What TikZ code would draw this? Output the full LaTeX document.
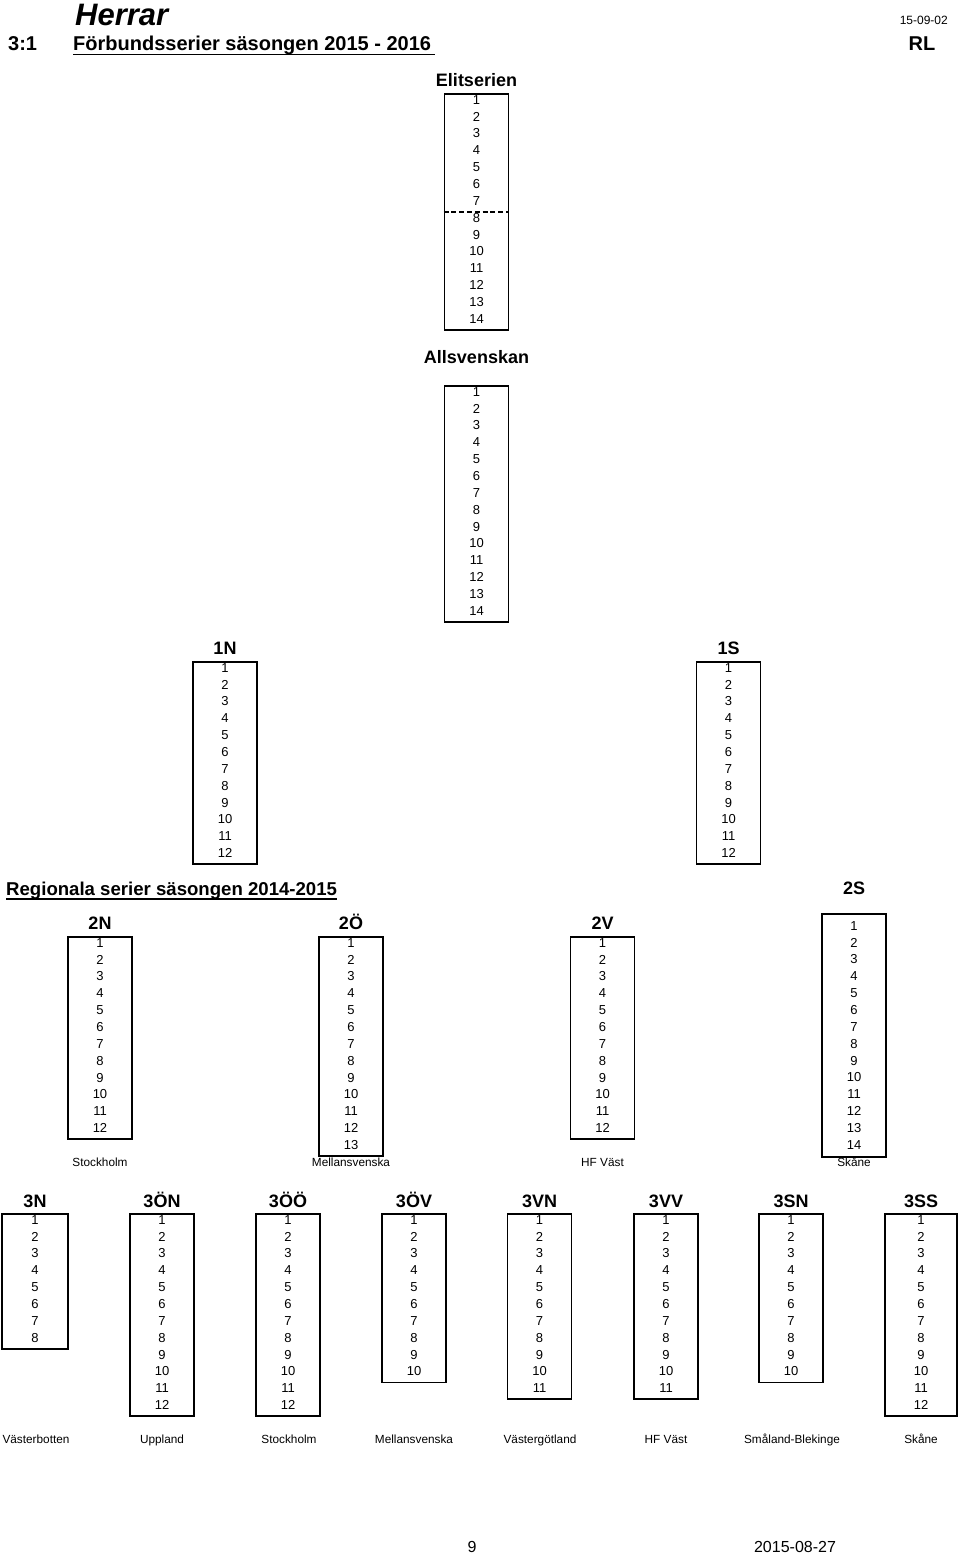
\documentclass[tikz,border=0pt]{standalone}
\usepackage{fontspec}
\setmainfont{Liberation Sans}
\usepackage{tikz}
\usetikzlibrary{positioning,calc}
\tikzset{
    listbox/.style={draw, line width=1.7pt, minimum width=64pt, inner sep=0pt},
    num/.style={font=\fontsize{13}{15}\selectfont, inner sep=0pt, text height=9.3pt, text depth=0pt},
    serietitle/.style={font=\fontsize{18}{20}\selectfont\bfseries, inner sep=0pt, text height=13pt, text depth=0pt},
    region/.style={font=\fontsize{11.8}{13}\selectfont, inner sep=0pt, text height=8.5pt, text depth=0pt},
    heading/.style={font=\fontsize{20}{22}\selectfont\bfseries, inner sep=0pt},
    uline/.style={line width=1.4pt}
}
% ruta med numrerade platser: [extra], namn, x, överkant, antal lag
\newcommand{\seriebox}[5][]{%
    \node[listbox, minimum height=#5*16.86pt, anchor=north, #1] (#2) at (#3,#4) {};
    \foreach \i in {1,...,#5}
        \node[num] (#2-\i) at (#3,#4+6.5+16.86*\i-16.86) {\i};
}

\begin{document}
\begin{tikzpicture}[x=1pt, y=-1pt]
    \useasboundingbox (0,0) rectangle (960,1554);

    % Sidhuvud
    \node[font=\fontsize{31}{34}\selectfont\bfseries\itshape, inner sep=0pt, anchor=base west] (herrar) at (75,26) {Herrar};
    \node[font=\fontsize{12}{14}\selectfont, inner sep=0pt, anchor=base east] (datum) at (948,25) {15-09-02};
    \node[heading, anchor=base west] (avd) at (8,51) {3:1};
    \node[heading, anchor=base west] (forb) at (73,51) {Förbundsserier säsongen 2015 - 2016};
    \draw[uline] ([yshift=-3.5pt]forb.base west) -- ([yshift=-3.5pt, xshift=4pt]forb.base east);
    \node[heading, anchor=base] (rl) at (922,51) {RL};

    % Elitserien
    \seriebox{elit}{476.5}{93}{14}
    \node[serietitle, above=6.5pt of elit] (elit-t) {Elitserien};
    \coordinate (cut) at ($(elit-7)!0.68!(elit-8)$);
    \draw[line width=1.4pt, dash pattern=on 5pt off 2.8pt] (cut -| elit.west) -- (cut -| elit.east);

    % Allsvenskan
    \seriebox{allsv}{476.5}{385}{14}
    \node[serietitle, above=21.5pt of allsv] (allsv-t) {Allsvenskan};

    % Division 1
    \seriebox{ettn}{225}{661}{12}
    \node[serietitle, above=6.5pt of ettn] (ettn-t) {1N};
    \seriebox{etts}{728.5}{661}{12}
    \node[serietitle, above=6.5pt of etts] (etts-t) {1S};

    % Regionala serier
    \node[font=\fontsize{18.6}{21}\selectfont\bfseries, inner sep=0pt, anchor=base west] (regional) at (6,895) {Regionala serier säsongen 2014-2015};
    \draw[line width=1.3pt] ([yshift=-4pt]regional.base west) -- ([yshift=-4pt]regional.base east);

    \seriebox{tvan}{100}{936}{12}
    \node[serietitle, above=6.5pt of tvan] (tvan-t) {2N};
    \seriebox{tvao}{351}{936}{13}
    \node[serietitle, above=6.5pt of tvao] (tvao-t) {2Ö};
    \seriebox{tvav}{602.5}{936}{12}
    \node[serietitle, above=6.5pt of tvav] (tvav-t) {2V};
    \seriebox[minimum height=243pt, yshift=6pt]{tvas}{854}{919}{14}
    \node[serietitle, above=18.5pt of tvas] (tvas-t) {2S};

    \node[region] (tvan-r) at (100,1162) {Stockholm};
    \node[region] (tvao-r) at (351,1162) {Mellansvenska};
    \node[region] (tvav-r) at (602.5,1162) {HF Väst};
    \node[region] (tvas-r) at (854,1162) {Skåne};

    % Division 3
    \seriebox[minimum width=66pt]{tren}{35}{1213}{8}
    \node[serietitle, above=5.5pt of tren] (tren-t) {3N};
    \seriebox{treon}{162}{1213}{12}
    \node[serietitle, above=5.5pt of treon] (treon-t) {3ÖN};
    \seriebox{treoo}{288}{1213}{12}
    \node[serietitle, above=5.5pt of treoo] (treoo-t) {3ÖÖ};
    \seriebox{treov}{414}{1213}{10}
    \node[serietitle, above=5.5pt of treov] (treov-t) {3ÖV};
    \seriebox{trevn}{539.5}{1213}{11}
    \node[serietitle, above=5.5pt of trevn] (trevn-t) {3VN};
    \seriebox{trevv}{666}{1213}{11}
    \node[serietitle, above=5.5pt of trevv] (trevv-t) {3VV};
    \seriebox{tresn}{791}{1213}{10}
    \node[serietitle, above=5.5pt of tresn] (tresn-t) {3SN};
    \seriebox[minimum width=72pt]{tress}{921}{1213}{12}
    \node[serietitle, above=5.5pt of tress] (tress-t) {3SS};

    \node[region] (tren-r) at (36,1439) {Västerbotten};
    \node[region] (treon-r) at (162,1439) {Uppland};
    \node[region] (treoo-r) at (289,1439) {Stockholm};
    \node[region] (treov-r) at (414,1439) {Mellansvenska};
    \node[region] (trevn-r) at (540,1439) {Västergötland};
    \node[region] (trevv-r) at (666,1439) {HF Väst};
    \node[region] (tresn-r) at (792,1439) {Småland-Blekinge};
    \node[region] (tress-r) at (921,1439) {Skåne};

    % Sidfot
    \node[font=\fontsize{16}{18}\selectfont, inner sep=0pt] (sida) at (472,1547) {9};
    \node[font=\fontsize{16}{18}\selectfont, inner sep=0pt] (utskrift) at (795,1547) {2015-08-27};
\end{tikzpicture}
\end{document}
